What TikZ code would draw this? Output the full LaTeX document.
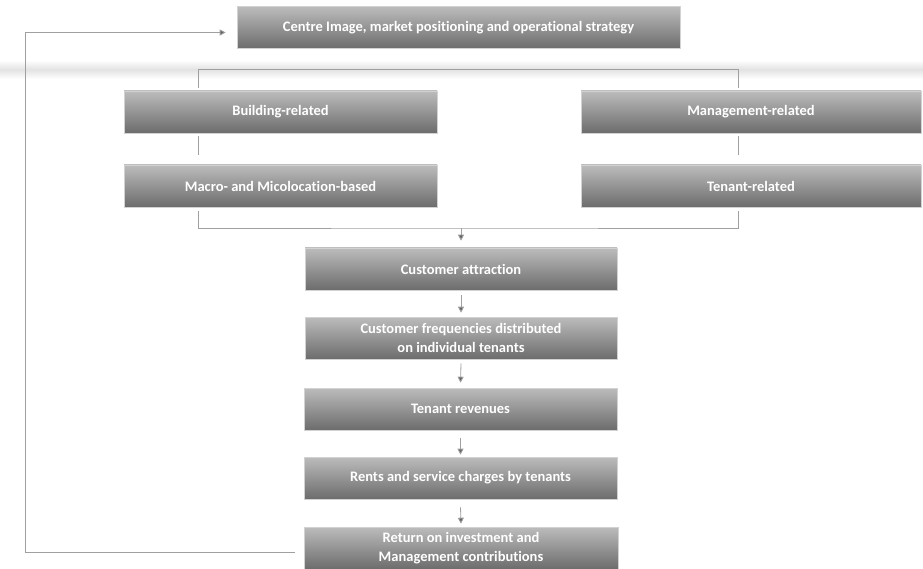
\documentclass[tikz,border=0pt]{standalone}
\usepackage{fontspec}
\setsansfont{Carlito}[Ligatures=NoCommon]
\usetikzlibrary{arrows.meta, positioning, calc}
\definecolor{boxtop}{RGB}{188,188,188}
\definecolor{boxbot}{RGB}{108,108,108}
\definecolor{lnkgray}{RGB}{160,160,160}
\definecolor{tipgray}{RGB}{100,100,100}

\begin{document}
\begin{tikzpicture}[
    x=1pt, y=-1pt,
    >={Triangle[length=6pt, width=6pt]},
    factbox/.style={
        rectangle, draw=gray!35, line width=0.6pt,
        top color=boxtop, bottom color=boxbot,
        minimum height=42pt, inner sep=2pt, align=center,
        text=white, font=\sffamily\bfseries\fontsize{14.5}{18.5}\selectfont
    },
    widebox/.style={factbox, minimum width=313pt},
    sidebox/.style={factbox, minimum width=340pt},
    lnk/.style={draw=lnkgray, line width=0.8pt},
    arr/.style={lnk, -{Triangle[length=6pt, width=6pt, fill=tipgray]}},
]
\useasboundingbox (0,0) rectangle (923,569);

% ================================================================
%  BAND BEHIND THE TOP BRACKET
% ================================================================
\fill[top color=white, bottom color=white, middle color=gray!22]
    (0,60) rectangle (923,79);

% ================================================================
%  TOP: STRATEGY
% ================================================================
\node[factbox, minimum width=443pt] (strat) at (458.5, 27.5)
    {Centre Image, market positioning and operational strategy};

% ================================================================
%  FACTOR GROUPS (two columns)
% ================================================================
\node[widebox] (build)  at (280.5, 112) {Building-related};
\node[sidebox] (mgmt)   at (751, 112)   {Management-related};
\node[widebox] (macro)  at (280.5, 186) {Macro- and Micolocation-based};
\node[sidebox] (tenrel) at (751, 186)   {Tenant-related};

% column lines sit left of the box centres
\coordinate (lcol) at (198, 0);
\coordinate (rcol) at (738, 0);

% --- bracket over the upper row ---
\draw[lnk] ($(build.north -| lcol)+(0,-3)$) -- ++(0,-18) -| ($(mgmt.north -| rcol)+(0,-3)$);

% --- column links ---
\draw[lnk] ($(build.south -| lcol)+(0,3)$) -- ($(macro.north -| lcol)+(0,-10)$);
\draw[lnk] ($(mgmt.south -| rcol)+(0,3)$) -- ($(tenrel.north -| rcol)+(0,-10)$);

% ================================================================
%  CHAIN OF EFFECTS
% ================================================================
\node[widebox, minimum width=312pt] (attr)  at (461, 269)   {Customer attraction};
\node[widebox, minimum width=312pt] (freq)  at (461, 338)   {Customer frequencies distributed\\on individual tenants};
\node[widebox] (rev)   at (460.5, 409) {Tenant revenues};
\node[widebox] (rents) at (460.5, 478) {Rents and service charges by tenants};
\node[widebox, minimum width=314pt] (ret)   at (461, 548)   {Return on investment and\\Management contributions};

% --- bracket under the lower row ---
\coordinate (join) at (461, 228);
\draw[lnk] ($(macro.south -| lcol)+(0,4)$) |- (join) -| ($(tenrel.south -| rcol)+(0,4)$);
\draw[arr] (join) -- ($(attr.north)+(0,-7)$);

% --- arrows down the chain ---
\draw[arr] ($(attr.south)+(0,5)$)  -- ($(freq.north)+(0,-4)$);
\draw[arr] ($(freq.south)+(0,4)$)  -- ($(rev.north)+(0,-5)$);
\draw[arr] ($(rev.south)+(0,8)$)   -- ($(rents.north)+(0,-2)$);
\draw[arr] ($(rents.south)+(0,8)$) -- ($(ret.north)+(0,-3)$);

% ================================================================
%  FEEDBACK LOOP
% ================================================================
\coordinate (back) at (25, 0);
\draw[arr] ($(ret.west)+(-9,4)$) -| ($(back |- strat.west)+(0,5)$)
    -- ($(strat.west)+(-11,5)$);

\end{tikzpicture}
\end{document}
